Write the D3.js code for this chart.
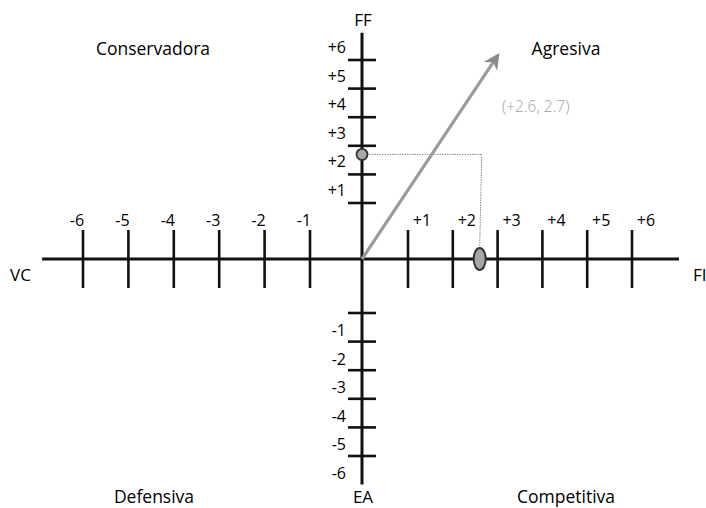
<!DOCTYPE html>
<html>
<head>
<meta charset="utf-8">
<script src="https://cdn.jsdelivr.net/npm/d3@7/dist/d3.min.js"></script>
<style>
  html, body { margin: 0; padding: 0; background: #fff; }
  svg { display: block; }
  text { font-family: "Open Sans", "DejaVu Sans", sans-serif; fill: #000; }
</style>
</head>
<body>
<script>
// ---- data ----
const xTicks = [-6, -5, -4, -3, -2, -1, 1, 2, 3, 4, 5, 6];
const yTicks = [-6, -5, -4, -3, -2, -1, 1, 2, 3, 4, 5, 6];
const xTickLabels = ["-6", "-5", "-4", "-3", "-2", "-1", "+1", "+2", "+3", "+4", "+5", "+6"];
const yTickLabels = ["-6", "-5", "-4", "-3", "-2", "-1", "+1", "+2", "+3", "+4", "+5", "+6"];
const axisNames = { left: "VC", right: "FI", top: "FF", bottom: "EA" };
const quadrants = ["Conservadora", "Agresiva", "Defensiva", "Competitiva"];
const pointX = 2.6;
const pointY = 2.7;
const pointLabel = "(+2.6, 2.7)";
const arrowEnd = [3.0, 6.15];
const xExtent = [-6.9, 7.05];
const yExtent = [-7.0, 6.95];

// ---- chart ----
const W = 706, H = 508;
const svg = d3.select("body").append("svg").attr("width", W).attr("height", H);

const x = d3.scaleLinear().domain([-6, -1, 0, 1, 6]).range([83, 310, 362, 408, 632]);
const y = d3.scaleLinear().domain([-6, -1, 0, 1, 6]).range([456, 313, 259, 203, 60]);

const ink = "#111";

// main axes
svg.append("line")
  .attr("x1", x(xExtent[0])).attr("x2", x(xExtent[1]))
  .attr("y1", y(0)).attr("y2", y(0))
  .attr("stroke", ink).attr("stroke-width", 3);
svg.append("line")
  .attr("x1", x(0)).attr("x2", x(0))
  .attr("y1", y(yExtent[1])).attr("y2", y(yExtent[0]))
  .attr("stroke", ink).attr("stroke-width", 3);

// x ticks
svg.append("g").selectAll("line").data(xTicks).join("line")
  .attr("x1", d => x(d)).attr("x2", d => x(d))
  .attr("y1", y(0) - 29).attr("y2", y(0) + 29)
  .attr("stroke", ink).attr("stroke-width", 2.6);
svg.append("g").selectAll("text").data(xTicks).join("text")
  .attr("x", d => x(d) + (d < 0 ? -6 : 14))
  .attr("y", y(0) - 33)
  .attr("text-anchor", "middle")
  .attr("font-size", 16)
  .text((d, i) => xTickLabels[i]);

// y ticks
svg.append("g").selectAll("line").data(yTicks).join("line")
  .attr("x1", x(0) - 14).attr("x2", x(0) + 14)
  .attr("y1", d => y(d)).attr("y2", d => y(d))
  .attr("stroke", ink).attr("stroke-width", 2.6);
svg.append("g").selectAll("text").data(yTicks).join("text")
  .attr("x", x(0) - 16)
  .attr("y", d => d > 0 ? y(d) - 7 : y(d) + 23)
  .attr("text-anchor", "end")
  .attr("font-size", 16)
  .text((d, i) => yTickLabels[i]);

// axis names
svg.append("text").attr("x", 10).attr("y", 281).attr("font-size", 17).text(axisNames.left);
svg.append("text").attr("x", 693).attr("y", 281).attr("font-size", 17).text(axisNames.right);
svg.append("text").attr("x", x(0) + 1).attr("y", 26).attr("text-anchor", "middle").attr("font-size", 17).text(axisNames.top);
svg.append("text").attr("x", x(0) + 1).attr("y", 503).attr("text-anchor", "middle").attr("font-size", 17).text(axisNames.bottom);

// quadrant labels
const qPos = [[153, 55], [566, 55], [154, 503], [566, 503]];
svg.append("g").selectAll("text").data(quadrants).join("text")
  .attr("x", (d, i) => qPos[i][0]).attr("y", (d, i) => qPos[i][1])
  .attr("text-anchor", "middle").attr("font-size", 17.5)
  .text(d => d);

// dotted guide lines
const guide = svg.append("g").attr("stroke", "#888").attr("stroke-width", 1).attr("stroke-dasharray", "1.5,1");
guide.append("line").attr("x1", x(0)).attr("x2", x(pointX) + 2).attr("y1", y(pointY)).attr("y2", y(pointY));
guide.append("line").attr("x1", x(pointX) + 2).attr("x2", x(pointX)).attr("y1", y(pointY)).attr("y2", y(0) - 10);

// arrow
const defs = svg.append("defs");
defs.append("marker").attr("id", "ah")
  .attr("viewBox", "0 0 10 10").attr("refX", 8).attr("refY", 5)
  .attr("markerWidth", 5).attr("markerHeight", 5).attr("orient", "auto")
  .append("path").attr("d", "M0,0 L10,5 L0,10 L3,5 Z").attr("fill", "#8a8a8a");
svg.append("line")
  .attr("x1", x(0)).attr("y1", y(0))
  .attr("x2", x(arrowEnd[0])).attr("y2", y(arrowEnd[1]))
  .attr("stroke", "#9a9a9a").attr("stroke-width", 3.2)
  .attr("marker-end", "url(#ah)");

// markers
svg.append("circle").attr("cx", x(0)).attr("cy", y(pointY)).attr("r", 5.5)
  .attr("fill", "#a8a8a8").attr("stroke", "#333").attr("stroke-width", 1.8);
svg.append("ellipse").attr("cx", x(pointX)).attr("cy", y(0)).attr("rx", 6).attr("ry", 11)
  .attr("fill", "#a8a8a8").attr("stroke", "#333").attr("stroke-width", 2);

// point label
svg.append("text").attr("x", 502).attr("y", 112).attr("font-size", 15.5)
  .attr("font-weight", 300).style("fill", "#a0a0a0").text(pointLabel);
</script>
</body>
</html>
